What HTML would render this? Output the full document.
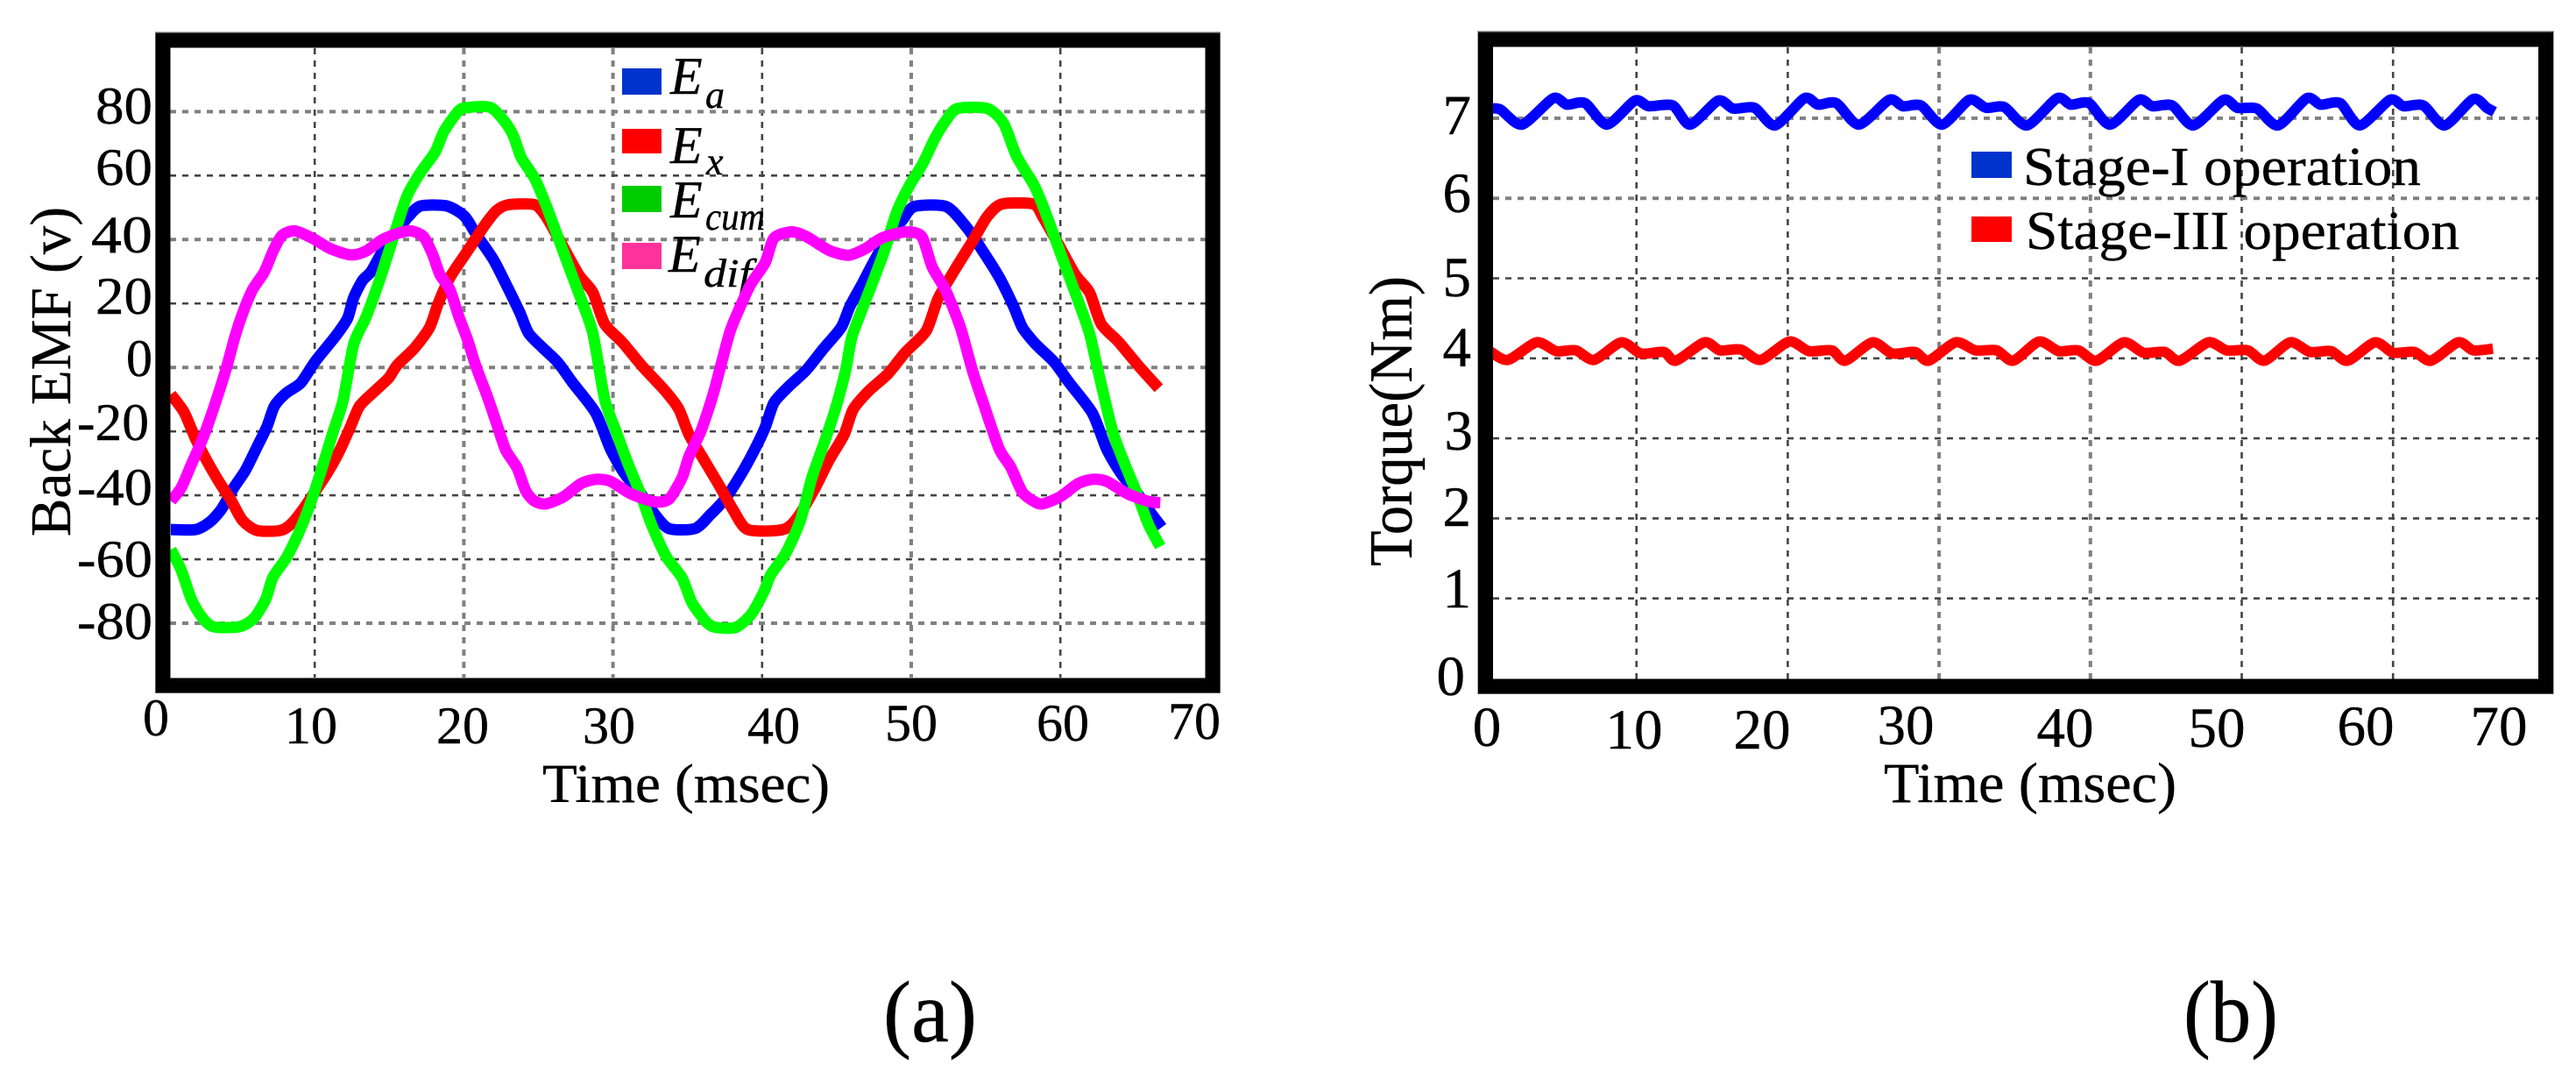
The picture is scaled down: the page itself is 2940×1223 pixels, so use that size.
<!DOCTYPE html>
<html lang="en">
<head>
<meta charset="utf-8">
<title>Back EMF and Torque charts</title>
<style>
html,body{margin:0;padding:0;background:#fff;width:2940px;height:1223px;overflow:hidden}
svg{display:block}
text{font-family:"Liberation Serif",serif;fill:#000;stroke:#000;stroke-width:.4px}
.t60{font-size:60px}
.t65{font-size:65px}
.it{font-style:italic}
</style>
</head>
<body>
<svg id="figure" width="2940" height="1223" viewBox="0 0 2940 1223" xmlns="http://www.w3.org/2000/svg">
  <g id="panel-a">
    <g id="a-grid"></g>
    <g id="a-legend-back">
      <g>
        <g>
          <rect x="710" y="78" width="45" height="30" fill="#0033cc"/>
          <text class="it" x="765" y="107" font-size="60">E</text>
          <text class="it" x="805" y="123" font-size="44">a</text>
        </g>
        <g>
          <rect x="710" y="147" width="45" height="28" fill="#ff0000"/>
          <text class="it" x="765" y="186" font-size="60">E</text>
          <text class="it" x="806" y="199" font-size="44">x</text>
        </g>
        <g>
          <rect x="710" y="212" width="45" height="30" fill="#00cc00"/>
          <text class="it" x="765" y="248" font-size="60">E</text>
          <text class="it" x="805" y="262" font-size="44" textLength="68" lengthAdjust="spacingAndGlyphs">cum</text>
        </g>
        <g>
          <rect x="710" y="277" width="45" height="30" fill="#ff3399"/>
          <text class="it" x="763" y="310" font-size="60">E</text>
          <text class="it" x="803" y="327" font-size="46" textLength="55" lengthAdjust="spacingAndGlyphs">dif</text>
        </g>
      </g>
    </g>
    <g id="a-series"></g>
    <rect x="178" y="37" width="1214" height="753" fill="none" stroke="#aaa" stroke-width="2"/>
    <rect x="186" y="46" width="1198" height="736" fill="none" stroke="#000" stroke-width="17"/>
    <g class="t60" text-anchor="end">
      <text x="174" y="141" textLength="65" lengthAdjust="spacingAndGlyphs">80</text>
      <text x="174" y="211" textLength="65" lengthAdjust="spacingAndGlyphs">60</text>
      <text x="174" y="288" textLength="70" lengthAdjust="spacingAndGlyphs">40</text>
      <text x="174" y="358" textLength="65" lengthAdjust="spacingAndGlyphs">20</text>
      <text x="174" y="429">0</text>
      <text x="170" y="502" textLength="82" lengthAdjust="spacingAndGlyphs">-20</text>
      <text x="174" y="576" textLength="86" lengthAdjust="spacingAndGlyphs">-40</text>
      <text x="174" y="658" textLength="86" lengthAdjust="spacingAndGlyphs">-60</text>
      <text x="174" y="729" textLength="86" lengthAdjust="spacingAndGlyphs">-80</text>
    </g>
    <g class="t60" text-anchor="middle">
      <text x="178" y="839">0</text>
      <text x="355" y="848">10</text>
      <text x="528" y="848">20</text>
      <text x="695" y="848">30</text>
      <text x="883" y="848">40</text>
      <text x="1040" y="845">50</text>
      <text x="1213" y="845">60</text>
      <text x="1363" y="843">70</text>
    </g>
    <text x="619" y="915" font-size="62" textLength="328" lengthAdjust="spacingAndGlyphs">Time (msec)</text>
    <text transform="translate(80,612) rotate(-90)" x="0" y="0" font-size="66" textLength="376" lengthAdjust="spacingAndGlyphs">Back EMF (v)</text>
    <text x="1008" y="1188" font-size="100" textLength="107" lengthAdjust="spacingAndGlyphs">(a)</text>
  </g>

  <g id="panel-b">
    <g id="b-grid"></g>
    <g id="b-series"></g>
    <rect x="1687" y="36" width="1227" height="755" fill="none" stroke="#aaa" stroke-width="2"/>
    <rect x="1695.5" y="45" width="1210" height="738" fill="none" stroke="#000" stroke-width="17"/>
    <g class="t65" text-anchor="end">
      <text x="1679" y="153">7</text>
      <text x="1679" y="242">6</text>
      <text x="1679" y="338">5</text>
      <text x="1679" y="418">4</text>
      <text x="1681" y="513">3</text>
      <text x="1679" y="600">2</text>
      <text x="1679" y="693">1</text>
      <text x="1672" y="793">0</text>
    </g>
    <g class="t65" text-anchor="middle">
      <text x="1697" y="851">0</text>
      <text x="1865" y="854">10</text>
      <text x="2011" y="854">20</text>
      <text x="2175" y="849">30</text>
      <text x="2357" y="852">40</text>
      <text x="2530" y="852">50</text>
      <text x="2700" y="850">60</text>
      <text x="2852" y="850">70</text>
    </g>
    <text x="2150" y="915" font-size="65" textLength="334" lengthAdjust="spacingAndGlyphs">Time (msec)</text>
    <text transform="translate(1611,646) rotate(-90)" x="0" y="0" font-size="70" textLength="331" lengthAdjust="spacingAndGlyphs">Torque(Nm)</text>
    <g>
      <g>
        <rect x="2250" y="173" width="46" height="30" fill="#0033cc"/>
        <text x="2309" y="211" font-size="62" textLength="454" lengthAdjust="spacingAndGlyphs">Stage-I operation</text>
      </g>
      <g>
        <rect x="2250" y="247" width="46" height="29" fill="#ff0000"/>
        <text x="2312" y="284" font-size="62" textLength="495" lengthAdjust="spacingAndGlyphs">Stage-III operation</text>
      </g>
    </g>
    <text x="2492" y="1188" font-size="100" textLength="108" lengthAdjust="spacingAndGlyphs">(b)</text>
  </g>
</svg>

<script>
const emfXTicks = [10, 20, 30, 40, 50, 60];
const emfYTicks = [-80, -60, -40, -20, 0, 20, 40, 60, 80];
const torqueXTicks = [10, 20, 30, 40, 50, 60];
const torqueYTicks = [1, 2, 3, 4, 5, 6, 7];

const eaTimes = [0.35,2.02,3,3.78,4.56,5.35,6.13,6.8,7.3,8.09,9.07,10.05,11.4,12.2,12.6,13.2,13.77,14.55,15.53,16.3,17.1,18.86,20.04,20.8,22,23,23.76,24.34,25.3,26.3,27.3,28.85,29.83,30.8,31.8,32.77,33.75,35.5,36.5,37.5,38.45,39.4,40.2,40.8,41.8,42.95,44.1,45.3,45.9,46.7,47.45,48.4,49.4,50.2,52.35,53.7,54.7,55.9,56.85,57.45,58.2,58.6,59.6,60.6,62.15,63.1,64.1,65.1,66.1,66.8];
const eaValues = [-50.7,-50.7,-48.2,-44.1,-37.7,-32.2,-24.9,-18.5,-12.1,-8,-4.8,2,9.8,15.3,21.7,27.2,29.9,36.3,42.7,47.3,50.5,50.5,47.3,41.8,33.6,24.4,17.1,10.7,6.1,1.6,-4.8,-14.3,-25.5,-33.4,-39,-45.7,-50.4,-50.4,-46.2,-41.2,-34.5,-26.6,-18.8,-11,-5.9,-0.9,5.8,12.5,19.2,26,32.7,40.5,46.1,50.3,50.3,43.9,37.1,28.2,19.2,12.5,8,6.1,1.6,-4.8,-14.3,-25.5,-33.4,-39,-45.7,-50];

const exTimes = [0.35,1.23,2,2.8,3.6,4.37,5.15,6.13,7.7,8.48,9.26,10.05,10.83,11.6,12.4,13,14,14.94,15.53,16.7,17.7,18.27,19.06,20.23,21.4,22.2,23,24.74,25.5,26.5,27.7,28.65,29.44,30.6,32,33.55,34.43,35.1,36.1,37.1,38.05,39.03,41.4,42.4,43.54,44.5,45.5,46.1,47.1,48.44,49.6,51,51.8,52.9,54.1,55.1,56.07,58.2,58.8,59.8,61,61.95,62.74,63.9,65.3,66.6];
const exValues = [-8.4,-13.9,-22.2,-29.5,-35.9,-41.4,-47.8,-51,-51,-48.7,-44.1,-38.6,-33.1,-26.7,-18.5,-12.1,-7.5,-3.4,0.7,6.1,12.5,19.9,28.1,36.3,44.5,49.1,50.9,50.9,47.3,39.1,29,23.5,13.6,8,0.2,-7.6,-13.2,-21,-28.9,-36.7,-44.5,-50.7,-50.7,-46.8,-37.8,-28.9,-21,-13.2,-7.6,-2,4.7,11.4,21.5,30.4,39.4,47.2,51.1,51.1,47.3,39.1,29,23.5,13.6,8,0.2,-6.5];

const ecumTimes = [0.35,1.04,1.72,2.4,3.2,4.95,5.93,6.72,7.2,8.09,8.87,9.66,10.44,11.22,11.9,12.6,13.4,14.2,14.85,15.53,16.2,17.1,18.08,18.66,19.64,20.23,21.8,22.8,23.36,23.85,24.74,25.5,26.3,27.1,27.9,28.65,29.44,30.2,31,31.8,32.57,33.55,34.63,35.3,36.3,36.9,38.25,39.3,40.1,40.6,41.6,42.56,43.34,44.1,44.9,45.6,46,46.7,47.45,48.25,49,49.8,50.8,51.6,52.35,53.1,55.1,56.2,57.05,58.2,58.8,59.6,60.4,61.2,61.95,62.54,63.5,64.3,65.1,65.9,66.7];
const ecumValues = [-56.9,-63.3,-72.4,-77.9,-81.1,-81.1,-78.4,-72.4,-65.6,-59.6,-52.3,-43.2,-32.2,-20.3,-10.3,7.1,15.3,25.3,34.5,44.5,53.7,61,67.4,73.8,80.2,81.3,81.3,76.5,72,65.6,59.2,50.9,40.9,30.8,20.8,10.7,-9.9,-19.9,-30,-39,-49,-59,-65.8,-73.6,-79.8,-81.3,-81.3,-77,-70.3,-64.7,-58,-47.9,-34.5,-24.4,-13.2,-0.9,9.2,18.1,27.1,37.1,48.3,56.2,64,71.8,77.4,81,81,76.3,66.2,57.3,50.9,40.9,30.8,20.8,10.7,-1.2,-19.9,-30,-39,-49,-56];

const edifTimes = [0.35,1.04,1.72,2.5,3.2,4.07,4.66,5.25,5.84,6.62,7.2,7.8,8.68,9.85,11.03,12.4,13.4,14.55,15.7,16.5,17.3,17.9,18.4,19.06,19.64,20.23,20.8,21.6,22.2,22.8,23.56,24.15,24.74,25.5,26.7,27.87,28.85,29.83,31.2,32.77,33.75,34.63,35.1,35.9,36.7,37.27,37.86,38.45,39.23,40.2,40.8,41.97,42.95,44.5,45.8,46.9,48.04,49.6,50.7,51.4,52.35,53.3,54.1,54.9,55.9,56.66,57.45,58.2,58.8,60,61.2,62.15,63.1,64.5,66,66.7];
const edifValues = [-41.8,-37.7,-30.4,-22.1,-13,-0.25,9.8,18,24.4,29.9,36.3,41.3,42.7,40.4,37.2,35.2,36.3,40,42.1,42.7,40.9,35.4,29,24.4,16.2,8.9,0.5,-9.4,-17.6,-25.8,-31.3,-38.6,-41.8,-42.7,-40.4,-36.3,-35,-35.6,-39.5,-42,-41.2,-34.5,-27.8,-19.9,-8.7,1.3,11.4,18.1,26,32.7,40.5,42.4,41,36.6,35.1,37.1,40.5,42.4,41,31.5,23.7,12.5,-0.9,-12.1,-25.5,-31.1,-39,-41.8,-42.7,-40.4,-36.3,-35,-35.6,-39.5,-42,-42.3];

const stage1Times = [0.3,1,2.43,4.5,5.4,6.6,8.05,9.9,10.8,12.4,13.55,15.4,16.4,17.8,19.16,21.1,22,23.2,24.7,26.7,27.6,28.8,30.2,32,33.1,34.3,35.8,37.8,38.7,39.9,41.3,43.2,44.1,45.4,46.8,48.8,49.7,51,52.4,54.3,55.2,56.5,57.8,59.8,60.7,62,63.4,65.3,66.2,66.7];
const stage1Values = [7.12,7.11,6.92,7.25,7.17,7.19,6.92,7.22,7.15,7.16,6.92,7.22,7.12,7.13,6.91,7.25,7.17,7.19,6.92,7.23,7.15,7.16,6.92,7.23,7.13,7.14,6.91,7.25,7.17,7.19,6.92,7.23,7.15,7.16,6.91,7.23,7.13,7.12,6.91,7.25,7.17,7.19,6.91,7.23,7.15,7.16,6.91,7.24,7.13,7.08];

const stage3Times = [0.3,1.5,3.4,4.7,6,7.2,9,10.3,11.8,12.6,14.5,15.5,16.9,18.2,20.1,21.4,22.9,23.8,25.6,26.9,28.4,29.3,31.1,32.4,33.8,34.9,36.6,37.9,39.2,40.4,42.2,43.5,44.9,45.9,47.8,49,50.4,51.5,53.2,54.5,55.9,57,58.8,60,61.4,62.5,64.3,65.3,66.6];
const stage3Values = [4.09,3.98,4.2,4.09,4.1,3.98,4.2,4.06,4.08,3.97,4.2,4.1,4.11,3.98,4.21,4.09,4.1,3.97,4.2,4.06,4.08,3.97,4.2,4.1,4.1,3.97,4.21,4.09,4.1,3.97,4.2,4.07,4.08,3.97,4.2,4.1,4.1,3.97,4.2,4.08,4.09,3.97,4.2,4.07,4.08,3.97,4.2,4.1,4.12];

const NS = 'http://www.w3.org/2000/svg';

function emfX(t) { return 189 + 17.02 * t; }
function emfY(v) { return 419.2 - 3.6475 * v; }
function torqueX(t) { return 1695 + 17.27 * t; }
function torqueY(v) { return 774 - 91.3 * v; }

function makeGridLine(parent, x1, y1, x2, y2, soft, label) {
  const ln = document.createElementNS(NS, 'line');
  ln.setAttribute('x1', x1);
  ln.setAttribute('y1', y1);
  ln.setAttribute('x2', x2);
  ln.setAttribute('y2', y2);
  ln.setAttribute('stroke', soft ? '#808080' : '#444');
  ln.setAttribute('stroke-width', soft ? '4' : '2.6');
  ln.setAttribute('stroke-dasharray', '7 7');
  
  
  parent.appendChild(ln);
}

function smoothPath(xs, ys) {
  let d = 'M' + xs[0].toFixed(1) + ' ' + ys[0].toFixed(1);
  for (let i = 0; i < xs.length - 1; i++) {
    const p = Math.max(i - 1, 0);
    const n = Math.min(i + 2, xs.length - 1);
    const c1x = xs[i] + (xs[i + 1] - xs[p]) / 8;
    const c1y = ys[i] + (ys[i + 1] - ys[p]) / 8;
    const c2x = xs[i + 1] - (xs[n] - xs[i]) / 8;
    const c2y = ys[i + 1] - (ys[n] - ys[i]) / 8;
    d += 'C' + c1x.toFixed(1) + ' ' + c1y.toFixed(1) + ' ' + c2x.toFixed(1) + ' ' + c2y.toFixed(1) + ' ' + xs[i + 1].toFixed(1) + ' ' + ys[i + 1].toFixed(1);
  }
  return d;
}

function makeSeries(parent, times, values, xFn, yFn, color, width, label) {
  const pl = document.createElementNS(NS, 'path');
  pl.setAttribute('d', smoothPath(times.map(xFn), values.map(yFn)));
  pl.setAttribute('fill', 'none');
  pl.setAttribute('stroke', color);
  pl.setAttribute('stroke-width', width);
  pl.setAttribute('stroke-linejoin', 'round');
  
  
  parent.appendChild(pl);
}

const aGrid = document.getElementById('a-grid');
emfXTicks.forEach(function (t) {
  makeGridLine(aGrid, emfX(t), 55, emfX(t), 773, t === 20 || t === 30 || t === 50, 'vertical-gridline');
});
emfYTicks.forEach(function (v) {
  makeGridLine(aGrid, 194, emfY(v), 1376, emfY(v), v === 80 || v === 40 || v === 0 || v === -80, 'horizontal-gridline');
});

const bGrid = document.getElementById('b-grid');
torqueXTicks.forEach(function (t) {
  makeGridLine(bGrid, torqueX(t), 54, torqueX(t), 775, t === 30 || t === 40, 'vertical-gridline');
});
torqueYTicks.forEach(function (v) {
  makeGridLine(bGrid, 1704, torqueY(v), 2898, torqueY(v), v === 7 || v === 6, 'horizontal-gridline');
});

const aSeries = document.getElementById('a-series');
makeSeries(aSeries, eaTimes, eaValues, emfX, emfY, '#0000ff', 13, 'series-ea');
makeSeries(aSeries, exTimes, exValues, emfX, emfY, '#ff0000', 13, 'series-ex');
makeSeries(aSeries, ecumTimes, ecumValues, emfX, emfY, '#00ff00', 13, 'series-ecum');
makeSeries(aSeries, edifTimes, edifValues, emfX, emfY, '#ff00ff', 13, 'series-edif');

const bSeries = document.getElementById('b-series');
makeSeries(bSeries, stage1Times, stage1Values, torqueX, torqueY, '#0000ff', 12, 'series-stage-1');
makeSeries(bSeries, stage3Times, stage3Values, torqueX, torqueY, '#ff0000', 12, 'series-stage-3');
</script>
</body>
</html>
